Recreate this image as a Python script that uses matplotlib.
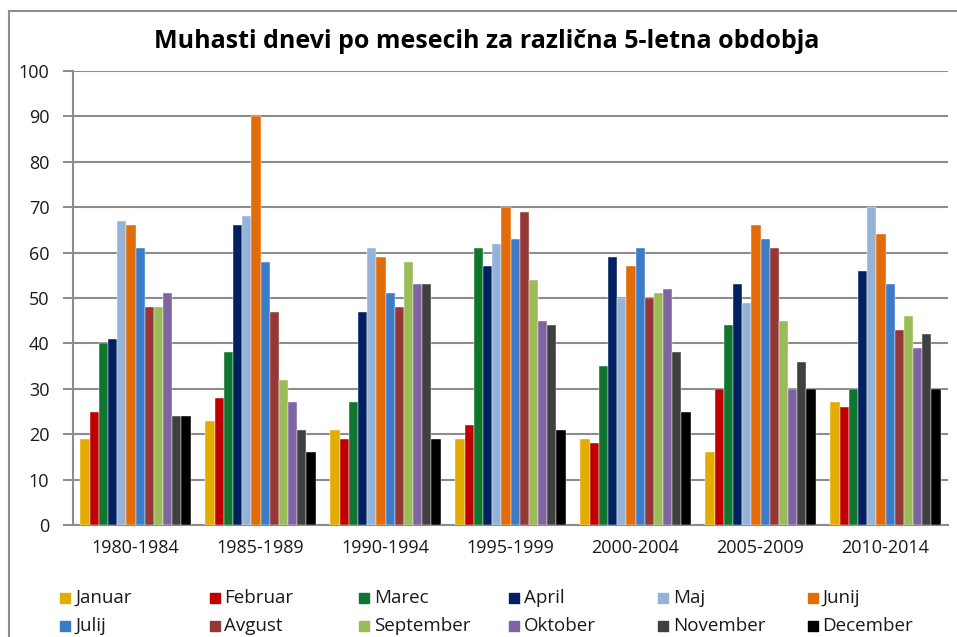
import numpy as np
import matplotlib.pyplot as plt
from matplotlib.patches import Rectangle
from matplotlib.lines import Line2D

plt.rcParams['font.family'] = ['Open Sans', 'DejaVu Sans']

# periods on the x axis
periods = ['1980-1984', '1985-1989', '1990-1994', '1995-1999',
           '2000-2004', '2005-2009', '2010-2014']

months = ['Januar', 'Februar', 'Marec', 'April', 'Maj', 'Junij',
          'Julij', 'Avgust', 'September', 'Oktober', 'November', 'December']

# foggy days per month, one list per month (values per period)
januar = [19, 23, 21, 19, 19, 16, 27]
februar = [25, 28, 19, 22, 18, 30, 26]
marec = [40, 38, 27, 61, 35, 44, 30]
april = [41, 66, 47, 57, 59, 53, 56]
maj = [67, 68, 61, 62, 50, 49, 70]
junij = [66, 90, 59, 70, 57, 66, 64]
julij = [61, 58, 51, 63, 61, 63, 53]
avgust = [48, 47, 48, 69, 50, 61, 43]
september = [48, 32, 58, 54, 51, 45, 46]
oktober = [51, 27, 53, 45, 52, 30, 39]
november = [24, 21, 53, 44, 38, 36, 42]
december = [24, 16, 19, 21, 25, 30, 30]

values = [januar, februar, marec, april, maj, junij,
          julij, avgust, september, oktober, november, december]

colors = ['#E2AC00', '#C00000', '#10752E', '#002060', '#95B3D7', '#E36C0A',
          '#3B7BC8', '#953735', '#9BBB59', '#8064A2', '#404040', '#000000']

W, H = 957, 637
fig = plt.figure(figsize=(W / 100, H / 100), dpi=100)
ax = fig.add_axes([73 / W, 1 - 525 / H, 875 / W, 454 / H])

x = np.arange(len(periods))
w = 0.0735
for i in range(len(months)):
    ax.bar(x - 5.5 * w + i * w, values[i], width=w, color=colors[i],
           edgecolor='white', linewidth=0.3, zorder=3)

ax.set_xlim(-0.5, len(periods) - 0.5)
ax.set_ylim(0, 100)
ax.set_yticks(range(0, 101, 10))
ax.set_xticks(x)
ax.set_xticklabels(periods)
ax.tick_params(axis='both', labelsize=13, labelcolor='#1a1a1a')
ax.tick_params(axis='x', length=0, pad=10)
ax.tick_params(axis='y', length=7, width=1.4, color='#8c8c8c', pad=10)

ax.grid(axis='y', color='#8c8c8c', linewidth=1.5, zorder=0)
for s in ['top', 'right']:
    ax.spines[s].set_visible(False)
ax.spines['left'].set_color('#8c8c8c')
ax.spines['left'].set_linewidth(1.5)
ax.spines['bottom'].set_color('#8c8c8c')
ax.spines['bottom'].set_linewidth(1.5)

fig.text(487 / W, 1 - 42 / H, 'Muhasti dnevi po mesecih za različna 5-letna obdobja',
         ha='center', va='center', fontsize=18, fontweight='bold')

# legend, laid out row by row like the original
for i in range(len(months)):
    row = i // 6
    col = i % 6
    lx = 60 + col * 149.5
    ly = 598 + row * 28
    fig.patches.append(Rectangle((lx / W, 1 - (ly + 5) / H), 10 / W, 10 / H,
                                 transform=fig.transFigure, color=colors[i]))
    fig.text((lx + 15) / W, 1 - ly / H, months[i], ha='left', va='center',
             fontsize=13.5, color='#1a1a1a')

# chart border (top and left edges visible)
fig.lines.append(Line2D([9 / W, 9 / W], [0, 1 - 11 / H], transform=fig.transFigure,
                        color='#8c8c8c', linewidth=1.5))
fig.lines.append(Line2D([9 / W, 1], [1 - 11 / H, 1 - 11 / H], transform=fig.transFigure,
                        color='#8c8c8c', linewidth=1.5))

fig.savefig('out.png', dpi=100)
